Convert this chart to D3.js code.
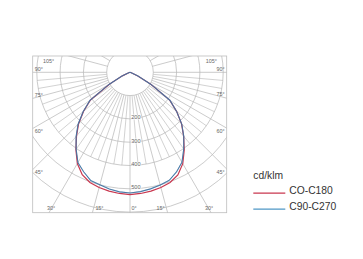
<!DOCTYPE html>
<html>
<head>
<meta charset="utf-8">
<script src="https://cdn.jsdelivr.net/npm/d3@7"></script>
<style>
  body { margin: 0; background: #fff; }
  svg { display: block; font-family: "Liberation Sans", Arial, sans-serif; }
</style>
</head>
<body>
<div id="chart"></div>
<script>
var width = 363;
var height = 259;

// gamma angles, 5 degree steps
var angles = [0, 5, 10, 15, 20, 25, 30, 35, 40, 45, 50, 55, 60, 65, 70, 75, 80, 85, 90];
// cd/klm
var c0   = [525, 522, 518, 512, 503, 485, 452, 405, 357, 312, 260, 207, 102, 36, 8, 0, 0, 0, 0];
var c180 = [525, 522, 518, 512, 503, 486, 453, 406, 358, 313, 261, 208, 103, 37, 8, 0, 0, 0, 0];
var c90  = [518, 515, 509, 500, 494, 471, 447, 403, 360, 315, 262, 210, 104, 38, 8, 0, 0, 0, 0];
var c270 = [518, 514, 508, 501, 493, 472, 446, 402, 359, 314, 261, 209, 104, 38, 8, 0, 0, 0, 0];

var ringValues = [100, 200, 300, 400, 500, 600];
var ringLabels = [200, 300, 400, 500];
var majorAngles = [0, 15, 30, 45, 60, 75, 90, 105, 120, 135, 150, 165, 180];
var labelAngles = [0, 15, 30, 45, 60, 75, 90, 105];
var minorAngles = [5, 10, 20, 25, 35, 40, 50, 55, 65, 70, 80, 85];

var unitLabel = "cd/klm";
var seriesNames = ["CO-C180", "C90-C270"];
var seriesColors = ["#c9374f", "#4f97c6"];

var box = { left: 32.7, top: 56, right: 226.7, bottom: 212.7 };
var cx = 130, cy = 72.3;
var r = d3.scaleLinear().domain([0, 600]).range([0, 139.8]);
var rad = Math.PI / 180;

var svg = d3.select("#chart").append("svg")
    .attr("width", width)
    .attr("height", height);

svg.append("defs").append("clipPath")
    .attr("id", "boxclip")
  .append("rect")
    .attr("x", box.left).attr("y", box.top)
    .attr("width", box.right - box.left)
    .attr("height", box.bottom - box.top);

var grid = svg.append("g")
    .attr("clip-path", "url(#boxclip)")
  .append("g")
    .attr("transform", "translate(" + cx + "," + cy + ")");

grid.selectAll("circle.ring")
    .data(ringValues)
    .enter().append("circle")
    .attr("class", "ring")
    .attr("r", function(d) { return r(d); })
    .attr("fill", "none")
    .attr("stroke", "#b4b4b4")
    .attr("stroke-width", 0.7);

function spokes(list, outer, w) {
    var both = [];
    list.forEach(function(a) { both.push(a); if (a != 0 && a != 180) both.push(-a); });
    grid.append("g").selectAll("line")
        .data(both)
        .enter().append("line")
        .attr("x1", function(d) { return r(100) * Math.sin(d * rad); })
        .attr("y1", function(d) { return r(100) * Math.cos(d * rad); })
        .attr("x2", function(d) { return outer * Math.sin(d * rad); })
        .attr("y2", function(d) { return outer * Math.cos(d * rad); })
        .attr("stroke", "#b4b4b4")
        .attr("stroke-width", w);
}
spokes(majorAngles, 400, 0.7);
spokes(minorAngles, r(400), 0.6);

svg.append("rect")
    .attr("x", box.left).attr("y", box.top)
    .attr("width", box.right - box.left)
    .attr("height", box.bottom - box.top)
    .attr("fill", "none")
    .attr("stroke", "#bdbdbd")
    .attr("stroke-width", 0.8);

// ring values on the vertical axis
svg.append("g").selectAll("text")
    .data(ringLabels)
    .enter().append("text")
    .attr("x", cx + 1.2)
    .attr("y", function(d) { return cy + r(d) + 0.4; })
    .attr("font-size", "5.6px")
    .attr("fill", "#666")
    .attr("stroke", "#fff")
    .attr("stroke-width", 1.2)
    .attr("paint-order", "stroke")
    .text(function(d) { return d; });

// angle labels where the spokes meet the frame
function edgeHit(a, s) {
    var dx = s * Math.sin(a * rad), dy = Math.cos(a * rad);
    var ts = [];
    if (dx > 1e-6) ts.push({ t: (box.right - cx) / dx, e: "side" });
    if (dx < -1e-6) ts.push({ t: (box.left - cx) / dx, e: "side" });
    if (dy > 1e-6) ts.push({ t: (box.bottom - cy) / dy, e: "bottom" });
    if (dy < -1e-6) ts.push({ t: (box.top - cy) / dy, e: "top" });
    var h = ts.sort(function(p, q) { return p.t - q.t; })[0];
    return { x: cx + dx * h.t, y: cy + dy * h.t, e: h.e };
}

var degLabels = [];
labelAngles.forEach(function(a) {
    [-1, 1].forEach(function(s) {
        if (a == 0 && s == -1) return;
        var h = edgeHit(a, s);
        var lab = { a: a, s: s, x: h.x, y: h.y, anchor: "start" };
        if (h.e == "bottom") {
            lab.y = box.bottom - 2.8;
            if (a == 0) { lab.x = h.x + 1.5; }
            else if (s < 0) { lab.x = h.x + (a >= 30 ? -2 : 3); }
            else { lab.x = h.x - (a >= 30 ? -2 : 3); lab.anchor = "end"; }
        } else if (h.e == "side") {
            lab.y = a >= 75 ? h.y - 1.8 : h.y + 4.8;
            lab.x = s < 0 ? box.left + 2 : box.right - 2;
            lab.anchor = s < 0 ? "start" : "end";
        } else {
            lab.y = box.top + 6.5;
            lab.x = s < 0 ? h.x - 15 : h.x + 15;
            lab.anchor = s < 0 ? "end" : "start";
        }
        degLabels.push(lab);
    });
});

svg.append("g").selectAll("text")
    .data(degLabels)
    .enter().append("text")
    .attr("x", function(d) { return d.x; })
    .attr("y", function(d) { return d.y; })
    .attr("text-anchor", function(d) { return d.anchor; })
    .attr("font-size", "5.4px")
    .attr("fill", "#666")
    .text(function(d) { return d.a + "\u00b0"; });

// curves: left half then right half, 0 deg pointing down
function curvePoints(leftVals, rightVals) {
    var pts = [];
    for (var i = angles.length - 1; i >= 0; i--) pts.push([Math.PI + angles[i] * rad, r(leftVals[i])]);
    for (var j = 1; j < angles.length; j++) pts.push([Math.PI - angles[j] * rad, r(rightVals[j])]);
    return pts;
}

var radial = d3.lineRadial()
    .angle(function(d) { return d[0]; })
    .radius(function(d) { return d[1]; })
    .curve(d3.curveLinear);

var curves = svg.append("g")
    .attr("transform", "translate(" + cx + "," + cy + ")");

curves.append("path")
    .attr("d", radial(curvePoints(c0, c180)))
    .attr("fill", "none")
    .attr("stroke", seriesColors[0])
    .attr("stroke-width", 1.2);

curves.append("path")
    .attr("d", radial(curvePoints(c90, c270)))
    .attr("fill", "none")
    .attr("stroke", seriesColors[1])
    .attr("stroke-width", 1.1)
    .attr("stroke-opacity", 0.9);

curves.append("path")
    .attr("d", radial(curvePoints(c90, c270)))
    .attr("fill", "none")
    .attr("stroke", "#2b2f5a")
    .attr("stroke-width", 0.7)
    .attr("stroke-opacity", 0.5);

// legend
var legend = svg.append("g");
legend.append("text")
    .attr("x", 253.3).attr("y", 179)
    .attr("font-size", "10.3px")
    .attr("fill", "#333")
    .text(unitLabel);

legend.selectAll("g.item")
    .data(seriesNames)
    .enter().append("g")
    .attr("class", "item")
    .attr("transform", function(d, i) { return "translate(0," + (i * 16) + ")"; })
    .each(function(d, i) {
        var g = d3.select(this);
        g.append("line")
            .attr("x1", 253.3).attr("x2", 285.3)
            .attr("y1", 193.2).attr("y2", 193.2)
            .attr("stroke", seriesColors[i])
            .attr("stroke-width", 1.3);
        g.append("text")
            .attr("x", 289.3).attr("y", 194)
            .attr("font-size", "10.3px")
            .attr("fill", "#333")
            .text(d);
    });
</script>
</body>
</html>
